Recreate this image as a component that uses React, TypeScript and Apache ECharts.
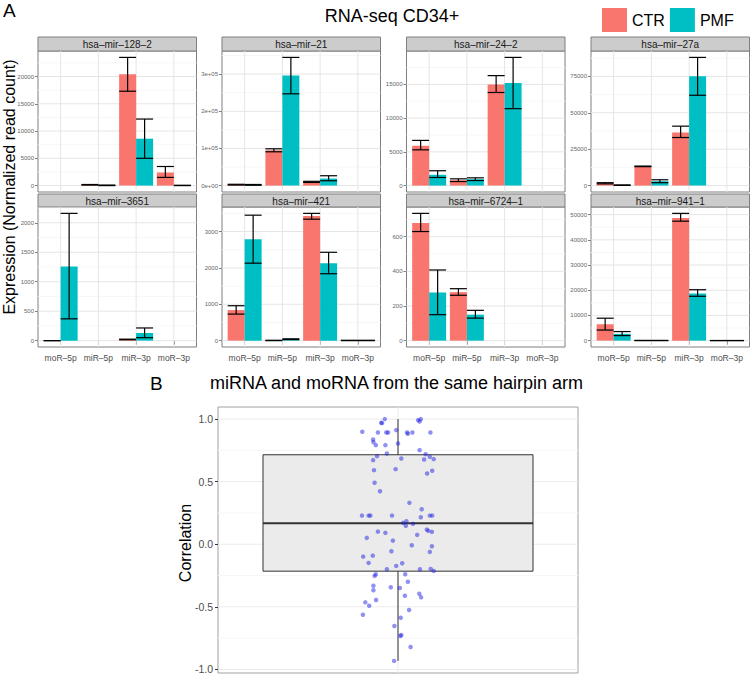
import React, { useEffect, useRef } from "react";
import * as echarts from "echarts";

const FONT = "'Liberation Sans', Arial, sans-serif";

const categories = ["moR–5p", "miR–5p", "miR–3p", "moR–3p"];
const panelNames = [
  "hsa–mir–128–2", "hsa–mir–21", "hsa–mir–24–2", "hsa–mir–27a",
  "hsa–mir–3651", "hsa–mir–421", "hsa–mir–6724–1", "hsa–mir–941–1",
];
const groups = ["CTR", "PMF"];
const groupColors = ["#F8766D", "#00BFC4"];

// per panel, per category (moR-5p, miR-5p, miR-3p, moR-3p)
const ctrMean = [
  [null, 150, 20400, 2400],
  [2500, 95000, 10000, null],
  [5900, 800, 15000, null],
  [1600, 13200, 36500, null],
  [0, null, 20, null],
  [840, 5, 3430, 5],
  [680, 280, null, null],
  [6500, 50, 48700, 30],
];
const ctrLow = [
  [null, 100, 17300, 1500],
  [1500, 91000, 8500, null],
  [5300, 600, 13800, null],
  [1200, 13000, 33000, null],
  [0, null, 15, null],
  [730, 0, 3340, 0],
  [630, 262, null, null],
  [4200, 0, 47400, 0],
];
const ctrHigh = [
  [null, 200, 23500, 3500],
  [3500, 99000, 11500, null],
  [6700, 1000, 16300, null],
  [2000, 13400, 40800, null],
  [0, null, 25, null],
  [960, 10, 3500, 10],
  [735, 300, null, null],
  [8900, 100, 50500, 60],
];
const pmfMean = [
  [null, 50, 8600, 30],
  [2000, 296000, 19000, null],
  [1600, 950, 15200, null],
  [300, 3000, 75000, null],
  [1260, null, 130, null],
  [2790, 40, 2125, 5],
  [278, 150, null, null],
  [2700, 50, 18700, 30],
];
const pmfLow = [
  [null, 0, 5000, 0],
  [1000, 247000, 13000, null],
  [1200, 750, 11400, null],
  [150, 2000, 62000, null],
  [370, null, 50, null],
  [2130, 30, 1840, 0],
  [150, 130, null, null],
  [2000, 0, 17600, 0],
];
const pmfHigh = [
  [null, 100, 12200, 60],
  [3000, 345000, 26500, null],
  [2200, 1150, 19000, null],
  [450, 4000, 88000, null],
  [2160, null, 215, null],
  [3450, 50, 2430, 10],
  [408, 175, null, null],
  [3600, 100, 20200, 60],
];

const yTicks = [
  [0, 5000, 10000, 15000, 20000],
  [0, 100000, 200000, 300000],
  [0, 5000, 10000, 15000],
  [0, 25000, 50000, 75000],
  [0, 500, 1000, 1500, 2000],
  [0, 1000, 2000, 3000],
  [0, 200, 400, 600],
  [0, 10000, 20000, 30000, 40000, 50000],
];
const yTickLabels = [
  ["0", "5000", "10000", "15000", "20000"],
  ["0e+00", "1e+05", "2e+05", "3e+05"],
  ["0", "5000", "10000", "15000"],
  ["0", "25000", "50000", "75000"],
  ["0", "500", "1000", "1500", "2000"],
  ["0", "1000", "2000", "3000"],
  ["0", "200", "400", "600"],
  ["0", "10000", "20000", "30000", "40000", "50000"],
];

// panel B: jittered correlation points
const corrX = [
  0.956, 0.944, 0.947, 0.881, 0.933, 0.961, 0.967, 0.994, 1.030, 1.033,
  1.048, 1.067, 1.072, 1.076, 1.108, 0.917, 0.918, 0.926, 0.958, 1.0,
  0.930, 0.963, 0.917, 1.011, 1.072, 1.092, 1.106, 1.087, 1.119, 0.920,
  0.992, 1.114, 1.097, 0.922, 0.940, 1.038, 1.079, 0.880, 0.902, 0.908,
  0.980, 1.076, 1.106, 1.114, 1.028, 1.017, 1.026, 1.050, 0.933, 0.958,
  1.064, 1.096, 1.101, 1.113, 0.896, 0.983, 1.046, 1.113, 0.978, 1.106,
  0.884, 0.916, 0.902, 1.014, 0.994, 0.963, 1.073, 1.109, 1.119, 0.926,
  0.922, 1.024, 1.033, 0.918, 0.918, 0.976, 1.006, 1.071, 1.077, 1.023,
  0.927, 0.891, 0.904, 1.037, 0.883, 1.009, 0.988, 1.011, 1.008, 1.042,
  0.987,
];
const corrY = [
  1.0, 0.971, 0.968, 0.899, 0.893, 0.893, 0.893, 0.912, 0.893, 0.883,
  0.893, 0.992, 0.981, 1.0, 0.893, 0.837, 0.816, 0.792, 0.792, 0.805,
  0.704, 0.725, 0.672, 0.685, 0.752, 0.72, 0.699, 0.677, 0.68, 0.592,
  0.6, 0.587, 0.565, 0.491, 0.424, 0.331, 0.28, 0.229, 0.229, 0.229,
  0.229, 0.216, 0.229, 0.229, 0.184, 0.171, 0.147, 0.163, 0.101, 0.091,
  0.075, 0.117, 0.107, 0.099, 0.051, 0.029, -0.008, -0.016, -0.056, -0.061,
  -0.099, -0.091, -0.149, -0.152, -0.173, -0.2, -0.2, -0.197, -0.213, -0.24,
  -0.253, -0.24, -0.299, -0.331, -0.368, -0.344, -0.349, -0.395, -0.424, -0.411,
  -0.445, -0.464, -0.491, -0.525, -0.563, -0.587, -0.653, -0.725, -0.733, -0.821,
  -0.932,
];
const boxQuartiles = [-0.215, 0.167, 0.715];
const corrTicks = [-1, -0.5, 0, 0.5, 1];

// layout
const colX = [38, 222, 406.5, 591];
const PANEL_W = 158.5;
const rowLayout = [
  { stripTop: 37, top: 51, h: 141 },
  { stripTop: 194, top: 207, h: 140 },
];

function buildOption() {
  const grid: any[] = [];
  const xAxis: any[] = [];
  const yAxis: any[] = [];
  const series: any[] = [];
  const graphic: any[] = [];

  const lineEl = (a: number[], b: number[], stroke: string, lw: number) => ({
    type: "line",
    shape: { x1: a[0], y1: a[1], x2: b[0], y2: b[1] },
    style: { stroke, lineWidth: lw },
  });

  panelNames.forEach((name, p) => {
    const r = Math.floor(p / 4);
    const c = p % 4;
    const L = rowLayout[r];
    const left = colX[c];
    grid.push({
      left, top: L.top, width: PANEL_W, height: L.h,
      show: true, backgroundColor: "#ffffff", borderColor: "#7f7f7f", borderWidth: 1,
    });
    const all = [0]
      .concat(ctrHigh[p] as any, pmfHigh[p] as any, ctrLow[p] as any, pmfLow[p] as any)
      .filter((v: any) => v !== null && v !== undefined) as number[];
    const lo = Math.min(...all);
    const hi = Math.max(...all);
    const pad = (hi - lo) * 0.05;
    const ymin = lo - pad;
    const ymax = hi + pad;
    const ticks = yTicks[p];
    const step = ticks[1] - ticks[0];
    const minors: number[] = [];
    for (let v = ticks[0] - step / 2; v <= ymax; v += step) if (v >= ymin) minors.push(v);

    xAxis.push({
      gridIndex: p, type: "value", min: 0.4, max: 4.6,
      splitLine: { show: false }, axisLine: { show: false },
      axisTick: { show: r === 1, customValues: [1, 2, 3, 4], length: 4, lineStyle: { color: "#7f7f7f" } },
      axisLabel: {
        show: r === 1, customValues: [1, 2, 3, 4],
        formatter: (v: number) => categories[Math.round(v) - 1],
        fontSize: 8.5, color: "#4d4d4d", margin: 6, fontFamily: FONT,
      },
    });
    yAxis.push({
      gridIndex: p, type: "value", min: ymin, max: ymax,
      splitLine: { show: false }, axisLine: { show: false },
      axisTick: { show: true, customValues: ticks, length: 3, lineStyle: { color: "#7f7f7f" } },
      axisLabel: {
        customValues: ticks,
        formatter: (v: number) => {
          const i = ticks.indexOf(v);
          return i >= 0 ? yTickLabels[p][i] : "";
        },
        fontSize: 6, color: "#666666", margin: 4, fontFamily: FONT,
      },
    });

    // grid lines
    series.push({
      type: "custom", xAxisIndex: p, yAxisIndex: p, silent: true, z: 1,
      data: [[1, 0]],
      renderItem: (params: any, api: any) => {
        const children: any[] = [];
        minors.forEach((v) => children.push(lineEl(api.coord([0.4, v]), api.coord([4.6, v]), "#f7f7f7", 1)));
        ticks.forEach((v) => children.push(lineEl(api.coord([0.4, v]), api.coord([4.6, v]), "#e5e5e5", 1)));
        [1, 2, 3, 4].forEach((v) => children.push(lineEl(api.coord([v, ymin]), api.coord([v, ymax]), "#e5e5e5", 1)));
        return { type: "group", children };
      },
    });

    // bars + error bars
    const means = [ctrMean[p], pmfMean[p]];
    const lows = [ctrLow[p], pmfLow[p]];
    const highs = [ctrHigh[p], pmfHigh[p]];
    groups.forEach((g, gi) => {
      const data: any[] = [];
      means[gi].forEach((m, i) => {
        if (m !== null) data.push([i + 1, m, lows[gi][i], highs[gi][i]]);
      });
      series.push({
        type: "custom", name: g, xAxisIndex: p, yAxisIndex: p, z: 2,
        itemStyle: { color: groupColors[gi] },
        encode: { x: 0, y: [1, 2, 3] },
        data,
        renderItem: (params: any, api: any) => {
          const x = api.value(0);
          const x0 = x + (gi === 0 ? -0.45 : 0);
          const x1 = x0 + 0.45;
          const xm = (x0 + x1) / 2;
          const top = api.coord([x0, api.value(1)]);
          const base = api.coord([x1, 0]);
          const eLo = api.value(2);
          const eHi = api.value(3);
          return {
            type: "group",
            children: [
              {
                type: "rect",
                shape: { x: top[0], y: Math.min(top[1], base[1]), width: base[0] - top[0], height: Math.abs(base[1] - top[1]) },
                style: { fill: groupColors[gi] },
              },
              lineEl(api.coord([xm, eLo]), api.coord([xm, eHi]), "#000", 1.2),
              lineEl(api.coord([x0, eLo]), api.coord([x1, eLo]), "#000", 1.2),
              lineEl(api.coord([x0, eHi]), api.coord([x1, eHi]), "#000", 1.2),
            ],
          };
        },
      });
    });

    // strip
    graphic.push({
      type: "rect",
      shape: { x: left, y: L.stripTop, width: PANEL_W, height: L.top - L.stripTop },
      style: { fill: "#cccccc", stroke: "#7f7f7f", lineWidth: 1 },
    });
    graphic.push({
      type: "text",
      x: left + PANEL_W / 2, y: (L.stripTop + L.top) / 2 + 0.5,
      style: { text: name, fontSize: 10, fontFamily: FONT, fill: "#1a1a1a", align: "center", verticalAlign: "middle" },
    });
  });

  // Panel B
  const b = 8;
  const cLo = Math.min(...corrY);
  const cHi = Math.max(...corrY);
  const cPad = (cHi - cLo) * 0.05;
  const bMin = cLo - cPad;
  const bMax = cHi + cPad;
  grid.push({
    left: 218, top: 407, width: 360, height: 266,
    show: true, backgroundColor: "#ffffff", borderColor: "#a0a0a0", borderWidth: 1,
  });
  xAxis.push({
    gridIndex: b, type: "value", min: 0.4, max: 1.6,
    splitLine: { show: false }, axisLine: { show: false },
    axisTick: { show: true, customValues: [1], length: 4, lineStyle: { color: "#333" } },
    axisLabel: { show: false },
  });
  yAxis.push({
    gridIndex: b, type: "value", min: bMin, max: bMax,
    splitLine: { show: false }, axisLine: { show: false },
    axisTick: { show: true, customValues: corrTicks, length: 3, lineStyle: { color: "#333" } },
    axisLabel: {
      customValues: corrTicks,
      formatter: (v: number) => v.toFixed(1),
      fontSize: 10.5, color: "#4d4d4d", margin: 5, fontFamily: FONT,
    },
  });
  const bMinors = [-0.75, -0.25, 0.25, 0.75];
  series.push({
    type: "custom", xAxisIndex: b, yAxisIndex: b, silent: true, z: 1,
    data: [[1, 0]],
    renderItem: (params: any, api: any) => {
      const children: any[] = [];
      bMinors.forEach((v) => children.push(lineEl(api.coord([0.4, v]), api.coord([1.6, v]), "#f7f7f7", 1)));
      corrTicks.forEach((v) => children.push(lineEl(api.coord([0.4, v]), api.coord([1.6, v]), "#ebebeb", 1)));
      children.push(lineEl(api.coord([1, bMin]), api.coord([1, bMax]), "#ebebeb", 1));
      return { type: "group", children };
    },
  });
  series.push({
    type: "custom", xAxisIndex: b, yAxisIndex: b, silent: true, z: 2,
    data: [[1, boxQuartiles[0], boxQuartiles[1], boxQuartiles[2], cLo, cHi]],
    encode: { x: 0, y: [1, 2, 3, 4, 5] },
    renderItem: (params: any, api: any) => {
      const x = api.value(0);
      const q1 = api.value(1), med = api.value(2), q3 = api.value(3), lo = api.value(4), hi = api.value(5);
      const tl = api.coord([x - 0.45, q3]);
      const br = api.coord([x + 0.45, q1]);
      return {
        type: "group",
        children: [
          lineEl(api.coord([x, hi]), api.coord([x, q3]), "#333", 1),
          lineEl(api.coord([x, q1]), api.coord([x, lo]), "#333", 1),
          {
            type: "rect",
            shape: { x: tl[0], y: tl[1], width: br[0] - tl[0], height: br[1] - tl[1] },
            style: { fill: "#ebebeb", stroke: "#333", lineWidth: 1 },
          },
          lineEl(api.coord([x - 0.45, med]), api.coord([x + 0.45, med]), "#333", 2),
        ],
      };
    },
  });
  series.push({
    type: "scatter", xAxisIndex: b, yAxisIndex: b, z: 3, silent: true,
    symbolSize: 4.5,
    itemStyle: { color: "rgba(25,25,225,0.6)" },
    data: corrX.map((x, i) => [x, corrY[i]]),
  });

  // titles and labels
  graphic.push(
    { type: "text", x: 3, y: 10, style: { text: "A", fontSize: 19, fontFamily: FONT, fill: "#000", align: "left", verticalAlign: "middle" } },
    { type: "text", x: 392, y: 16, style: { text: "RNA-seq CD34+", fontSize: 18, fontFamily: FONT, fill: "#000", align: "center", verticalAlign: "middle" } },
    { type: "text", x: 9, y: 187, rotation: Math.PI / 2, style: { text: "Expression (Normalized read count)", fontSize: 16, fontFamily: FONT, fill: "#000", align: "center", verticalAlign: "middle" } },
    { type: "text", x: 150, y: 383, style: { text: "B", fontSize: 19, fontFamily: FONT, fill: "#000", align: "left", verticalAlign: "middle" } },
    { type: "text", x: 396.5, y: 383, style: { text: "miRNA and moRNA from the same hairpin arm", fontSize: 18, fontFamily: FONT, fill: "#000", align: "center", verticalAlign: "middle" } },
    { type: "text", x: 185, y: 543, rotation: Math.PI / 2, style: { text: "Correlation", fontSize: 16, fontFamily: FONT, fill: "#000", align: "center", verticalAlign: "middle" } },
  );

  return {
    animation: false,
    backgroundColor: "#ffffff",
    legend: {
      left: 597, top: 3, itemWidth: 25, itemHeight: 24, itemGap: 5, icon: "rect",
      selectedMode: false,
      textStyle: { fontSize: 16, fontFamily: FONT, color: "#000" },
      data: groups.map((g, i) => ({ name: g, itemStyle: { color: groupColors[i] } })),
    },
    grid, xAxis, yAxis, series, graphic,
  };
}

export default function App() {
  const ref = useRef<HTMLDivElement>(null);
  useEffect(() => {
    if (!ref.current) return;
    const chart = echarts.init(ref.current, undefined, { renderer: "svg" });
    chart.setOption(buildOption() as any);
    return () => chart.dispose();
  }, []);
  return <div ref={ref} style={{ position: "absolute", left: 0, top: 0, width: 750, height: 676 }} />;
}
